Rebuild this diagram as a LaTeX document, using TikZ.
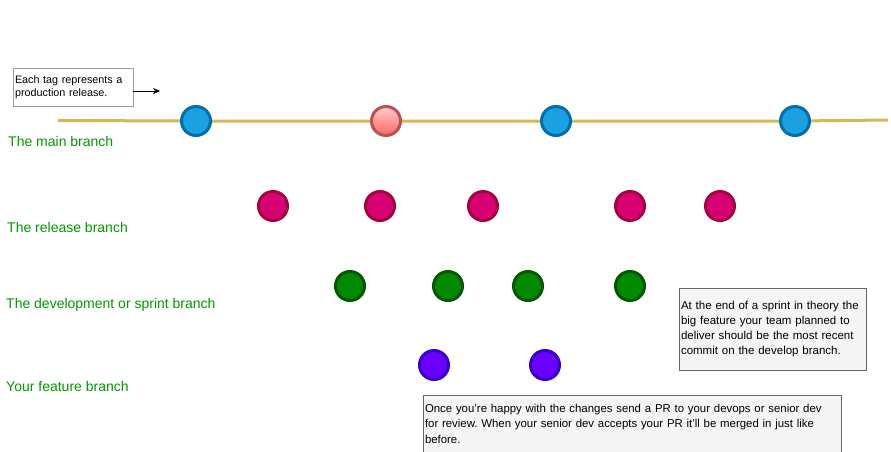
\documentclass[tikz,border=0pt]{standalone}
\usepackage{fontspec}
\setmainfont{Liberation Sans}
\usepackage{tikz}
\usetikzlibrary{arrows.meta}
\definecolor{trunk}{HTML}{D6B656}
\definecolor{tagfill}{HTML}{1BA1E2}
\definecolor{tagline}{HTML}{006EAF}
\definecolor{hotline}{HTML}{B85450}
\definecolor{relfill}{HTML}{D80073}
\definecolor{relline}{HTML}{A50040}
\definecolor{devfill}{HTML}{008A00}
\definecolor{devline}{HTML}{005700}
\definecolor{featfill}{HTML}{6A00FF}
\definecolor{featline}{HTML}{3700CC}
\definecolor{labelgreen}{HTML}{009900}
\definecolor{notefill}{HTML}{F5F5F5}
\definecolor{noteline}{HTML}{666666}
\frenchspacing

\begin{document}
\begin{tikzpicture}[x=1pt,y=-1pt,
  commit/.style={circle,line width=3pt,minimum size=29pt,inner sep=0pt},
  tagcommit/.style={commit,draw=tagline,fill=tagfill},
  relcommit/.style={commit,draw=relline,fill=relfill},
  devcommit/.style={commit,draw=devline,fill=devfill},
  featcommit/.style={commit,draw=featline,fill=featfill},
  branchname/.style={anchor=west,inner sep=0pt,text=labelgreen,font=\fontsize{14}{16}\selectfont},
  notebox/.style={draw=noteline,fill=notefill,align=left,inner xsep=2pt,inner ysep=0pt}]
\useasboundingbox (0,0) rectangle (891,451);
% Main branch with its tags
\coordinate (mstart) at (58,120.5);
\coordinate (mend) at (888,120);
\node[tagcommit] (m1) at (196,121) {};
\node[commit,draw=hotline,top color=red!20!white,bottom color=red!60!white] (m2) at (386,121) {};
\node[tagcommit] (m3) at (556,121) {};
\node[tagcommit] (m4) at (795,121) {};
\draw[trunk,line width=3pt] (mstart) -- (m1) -- (m2) -- (m3) -- (m4) -- (mend);
\node[branchname] (lmain) at (8,141) {The main branch};

% Release branch
\node[relcommit] (r1) at (273,206) {};
\node[relcommit] (r2) at (380,206) {};
\node[relcommit] (r3) at (483,206) {};
\node[relcommit] (r4) at (630,206) {};
\node[relcommit] (r5) at (720,206) {};
\node[branchname] (lrel) at (7,227) {The release branch};

% Development branch
\node[devcommit] (d1) at (350,286) {};
\node[devcommit] (d2) at (448,286) {};
\node[devcommit] (d3) at (528,286) {};
\node[devcommit] (d4) at (630,286) {};
\node[branchname] (ldev) at (6,305) {The development or sprint branch};

% Feature branch
\node[featcommit] (f1) at (434,365) {};
\node[featcommit] (f2) at (545,365) {};
\node[branchname] (lfeat) at (6,386) {Your feature branch};

% Notes
\node[notebox,draw=gray!75,fill=white,text width=116pt,minimum height=38pt,font=\fontsize{10.8}{13}\selectfont] (tagnote) at (73,87) {Each tag represents a\\production release.};
\coordinate (tagend) at (160,91);
\draw[-{Stealth[length=7pt,width=6pt]}] (tagnote.east |- tagend) -- (tagend);
\node[notebox,text width=183pt,minimum height=82pt,font=\fontsize{11.5}{14.7}\selectfont] (sprintnote) at (772.5,329) {At the end of a sprint in theory the\\big feature your team planned to\\deliver should be the most recent\\commit on the develop branch.};
\node[notebox,text width=414pt,minimum height=57pt,font=\fontsize{11.4}{15.5}\selectfont] (prnote) at (632,423.5) {Once you're happy with the changes send a PR to your devops or senior dev\\for review. When your senior dev accepts your PR it'll be merged in just like\\before.};
\end{tikzpicture}
\end{document}
